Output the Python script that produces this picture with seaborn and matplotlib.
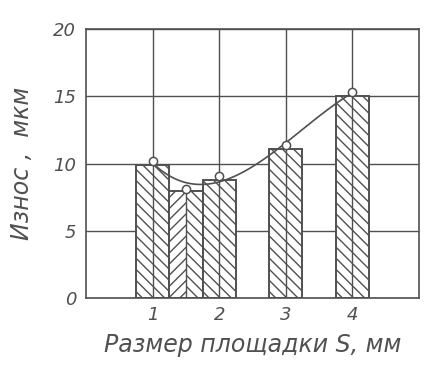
import pandas as pd
import matplotlib.pyplot as plt
import seaborn as sns
from matplotlib.patches import Rectangle

# -------------------------------
# Data
# -------------------------------
sizes = [1, 1.5, 2, 3, 4]                 # размер площадки S, мм
wear_bars = [9.9, 8.0, 8.8, 11.1, 15.0]   # высота столбцов, мкм
wear_points = [10.2, 8.1, 9.1, 11.4, 15.3]  # точки на кривой, мкм
x_ticks = [1, 2, 3, 4]
y_ticks = [0, 5, 10, 15, 20]

df = pd.DataFrame({"S": sizes, "bar": wear_bars, "pt": wear_points})

ink = "#505050"

sns.set_style("white")
plt.rcParams["font.family"] = ["DejaVu Sans"]
plt.rcParams["hatch.linewidth"] = 1.0
plt.rcParams["hatch.color"] = ink

fig = plt.figure(figsize=(4.43, 3.74), dpi=100)
ax = fig.add_axes([0.194, 0.203, 0.752, 0.719])

# -------------------------------
# Bars
# -------------------------------
sns.barplot(data=df, x="S", y="bar", native_scale=True, width=1,
            color="white", edgecolor=ink, linewidth=1.4,
            errorbar=None, ax=ax)

bars = list(ax.patches)
for i, p in enumerate(bars):
    p.set_facecolor("white")
    if sizes[i] in x_ticks:
        p.set_hatch("\\\\\\")
    else:
        # herringbone: two halves with opposite hatching
        bx, bw, bh = p.get_x(), p.get_width(), p.get_height()
        for k, h in enumerate(["///", "\\\\\\"]):
            ax.add_patch(Rectangle((bx + k * bw / 2, 0), bw / 2, bh,
                                   facecolor="none", edgecolor=ink,
                                   linewidth=0, hatch=h, zorder=p.get_zorder()))

# middle line inside each bar
ax.vlines(sizes, 0, wear_bars, color=ink, lw=1.0, zorder=3)

# -------------------------------
# Curve with points
# -------------------------------
sns.regplot(x=sizes, y=wear_points, order=3, ci=None, scatter=False,
            line_kws=dict(color=ink, lw=1.2), ax=ax)
sns.scatterplot(x=sizes, y=wear_points, marker="o", s=35,
                facecolor="white", edgecolor=ink, linewidth=1.1,
                zorder=6, ax=ax)

# -------------------------------
# Axes styling
# -------------------------------
ax.set_xlim(0, 5)
ax.set_ylim(0, 20)
ax.set_xticks(x_ticks)
ax.set_yticks(y_ticks)
ax.grid(True, color=ink, lw=1.0)
ax.set_axisbelow(True)
for s in ax.spines.values():
    s.set_color(ink)
    s.set_linewidth(1.2)

ax.tick_params(length=0, labelsize=13, labelcolor=ink)
ax.tick_params(axis="y", pad=7)
ax.tick_params(axis="x", pad=6)
for lbl in ax.get_xticklabels() + ax.get_yticklabels():
    lbl.set_style("italic")

ax.set_xlabel("Размер площадки S, мм", fontsize=17, style="italic",
              color=ink, labelpad=6)
ax.set_ylabel("Износ ,  мкм", fontsize=17, style="italic",
              color=ink, labelpad=14)

fig.savefig("out.png", dpi=100)
